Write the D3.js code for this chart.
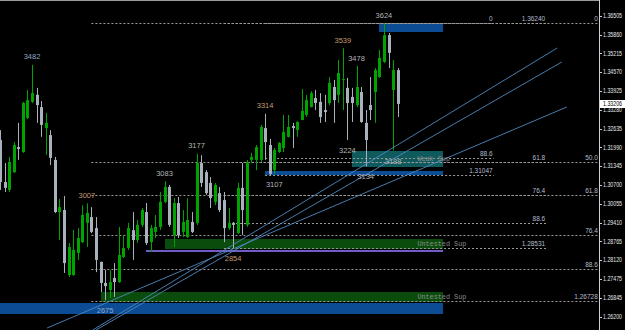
<!DOCTYPE html>
<html lang="en">
<head>
<meta charset="utf-8">
<title>EURUSD candles</title>
<script src="https://cdn.jsdelivr.net/npm/d3@7"></script>
<style>
    body { margin: 0; background: #000; }
    svg { display: block; }
    .axis-label { font: 6.5px "Liberation Sans", Arial, sans-serif; fill: #e8e8e8; }
    .swing { font: 7.5px "Liberation Sans", Arial, sans-serif; text-anchor: middle; }
    .fib-label { font: 6.5px "Liberation Sans", Arial, sans-serif; fill: #b4bccc; text-anchor: end; }
    .zone-label { font: 6.8px "Liberation Mono", monospace; fill: #8c8c8c; }
</style>
</head>
<body>
<svg id="chart" width="625" height="330"></svg>
<script>
// candles, oldest first (bar index = position)
const opens = [1.3224, 1.3080, 1.3053, 1.3114, 1.3200, 1.3183, 1.3300, 1.3355, 1.3379, 1.3337,
    1.3265, 1.3241, 1.3156, 1.2977, 1.2984, 1.2761, 1.2761, 1.2837, 1.2874, 1.2940,
    1.2960, 1.2922, 1.2806, 1.2734, 1.2710, 1.2751, 1.2737, 1.2823, 1.2854, 1.2915,
    1.2881, 1.2933, 1.2977, 1.2874, 1.2909, 1.2926, 1.3012, 1.3063, 1.2898, 1.3008,
    1.2909, 1.2891, 1.2943, 1.2940, 1.3145, 1.3114, 1.3077, 1.3012, 1.3042, 1.3018,
    1.2922, 1.2940, 1.2905, 1.3060, 1.2933, 1.3156, 1.3156, 1.3156, 1.3265, 1.3207,
    1.3121, 1.3183, 1.3197, 1.3235, 1.3272, 1.3259, 1.3293, 1.3310, 1.3337, 1.3368,
    1.3355, 1.3327, 1.3351, 1.3406, 1.3379, 1.3430, 1.3403, 1.3372, 1.3344, 1.3389,
    1.3283, 1.3344, 1.3389, 1.3440, 1.3492, 1.3584, 1.3396, 1.3464];
const highs = [1.3258, 1.3145, 1.3166, 1.3217, 1.3283, 1.3355, 1.3396, 1.3482, 1.3403, 1.3358,
    1.3317, 1.3258, 1.3166, 1.3022, 1.3032, 1.2871, 1.2916, 1.2922, 1.3000, 1.3007,
    1.2994, 1.2960, 1.2807, 1.2778, 1.2778, 1.2802, 1.2926, 1.2898, 1.2940, 1.2977,
    1.2950, 1.2991, 1.3008, 1.2933, 1.2967, 1.3046, 1.3083, 1.3070, 1.3025, 1.3029,
    1.2984, 1.3025, 1.2977, 1.3177, 1.3172, 1.3121, 1.3097, 1.3077, 1.3063, 1.3046,
    1.2991, 1.2943, 1.3077, 1.3145, 1.3156, 1.3180, 1.3207, 1.3276, 1.3314, 1.3228,
    1.3197, 1.3217, 1.3310, 1.3310, 1.3283, 1.3289, 1.3399, 1.3379, 1.3392, 1.3396,
    1.3385, 1.3379, 1.3440, 1.3430, 1.3499, 1.3539, 1.3437, 1.3403, 1.3478, 1.3406,
    1.3327, 1.3440, 1.3471, 1.3533, 1.3624, 1.3591, 1.3499, 1.3471];
const lows = [1.3053, 1.3046, 1.3046, 1.3111, 1.3156, 1.3180, 1.3296, 1.3351, 1.3283, 1.3235,
    1.3173, 1.3138, 1.2974, 1.2881, 1.2768, 1.2754, 1.2758, 1.2813, 1.2871, 1.2857,
    1.2905, 1.2771, 1.2703, 1.2675, 1.2682, 1.2686, 1.2734, 1.2819, 1.2847, 1.2813,
    1.2871, 1.2926, 1.2864, 1.2840, 1.2888, 1.2916, 1.3008, 1.2926, 1.2857, 1.2888,
    1.2891, 1.2888, 1.2905, 1.2933, 1.3063, 1.3036, 1.2991, 1.3001, 1.2977, 1.2874,
    1.2916, 1.2854, 1.2902, 1.2898, 1.2926, 1.3145, 1.3121, 1.3149, 1.3156, 1.3104,
    1.3107, 1.3180, 1.3183, 1.3233, 1.3197, 1.3235, 1.3292, 1.3303, 1.3336, 1.3327,
    1.3283, 1.3286, 1.3344, 1.3283, 1.3351, 1.3327, 1.3224, 1.3286, 1.3337, 1.3283,
    1.3134, 1.3293, 1.3283, 1.3437, 1.3488, 1.3471, 1.3188, 1.3303];
const closes = [1.3080, 1.3060, 1.3149, 1.3207, 1.3193, 1.3351, 1.3361, 1.3385, 1.3344, 1.3276,
    1.3283, 1.3163, 1.2977, 1.2994, 1.2802, 1.2857, 1.2847, 1.2888, 1.2967, 1.2974,
    1.2909, 1.2813, 1.2734, 1.2723, 1.2737, 1.2737, 1.2830, 1.2854, 1.2922, 1.2881,
    1.2933, 1.2984, 1.2871, 1.2922, 1.2926, 1.3012, 1.3063, 1.2933, 1.3008, 1.2898,
    1.2943, 1.2950, 1.2909, 1.3145, 1.3077, 1.3042, 1.3025, 1.3070, 1.2984, 1.2922,
    1.2940, 1.2933, 1.3060, 1.2984, 1.3149, 1.3166, 1.3200, 1.3269, 1.3217, 1.3108,
    1.3190, 1.3214, 1.3252, 1.3269, 1.3265, 1.3286, 1.3324, 1.3361, 1.3385, 1.3351,
    1.3303, 1.3320, 1.3420, 1.3361, 1.3454, 1.3433, 1.3351, 1.3351, 1.3406, 1.3286,
    1.3224, 1.3327, 1.3464, 1.3506, 1.3584, 1.3523, 1.3464, 1.3348];

const bidText = "1.33206";

// right price scale
const priceTicks = [1.36505, 1.35860, 1.35215, 1.34570, 1.33925, 1.33280, 1.32635, 1.31990,
    1.31345, 1.30700, 1.30055, 1.29410, 1.28765, 1.28120, 1.27475, 1.26830, 1.26185];
const priceTickLabels = ["1.36505", "1.35860", "1.35215", "1.34570", "1.33925", "1.33280", "1.32635", "1.31990",
    "1.31345", "1.30700", "1.30055", "1.29410", "1.28765", "1.28120", "1.27475", "1.26845", "1.26200"];

// swing high / low markers: bar, text, price, side, tier
const swingBars = [7, 84, 75, 78, 58, 43, 36, 19, 76, 60, 80, 86, 51, 23];
const swingTexts = ["3482", "3624", "3539", "3478", "3314", "3177", "3083", "3007", "3224", "3107", "3134", "3188", "2854", "2675"];
const swingPrices = [1.3482, 1.3624, 1.3539, 1.3478, 1.3314, 1.3177, 1.3083, 1.3007, 1.3224, 1.3107, 1.3134, 1.3188, 1.2854, 1.2675];
const swingSides = ["high", "high", "high", "high", "high", "high", "high", "high", "low", "low", "low", "low", "low", "low"];
const swingTiers = [1, 3, 2, 3, 2, 3, 3, 2, 3, 3, 3, 3, 2, 1];

// supply / demand boxes: start bar, end bar, top price, bottom price, kind, caption
const zoneStarts = [83, 77, 58, 36, 32, 22, 0];
const zoneEnds = [97, 97, 97, 97, 97, 97, 97];
const zoneTops = [1.3624, 1.3187, 1.3118, 1.2885, 1.2848, 1.2703, 1.2665];
const zoneBottoms = [1.3596, 1.3132, 1.3104, 1.2850, 1.2840, 1.2669, 1.2627];
const zoneKinds = ["blue", "teal", "blue", "green", "purple", "green", "blue"];
const zoneCaptions = ["", "Weak Sup", "", "Untested Sup", "", "Untested Sup", ""];

// fibonacci retracements: start bar, end bar, 0 price, 100 price, shown levels and texts
const fibStarts = [58, 49, 20];
const fibEnds = [108, 119.5, 131];
const fibZero = [1.3624, 1.3624, 1.3624];
const fibHundred = [1.31047, 1.28531, 1.26728];
const fibLevels = [[0, 88.6, 100], [0, 61.8, 76.4, 88.6, 100], [0, 50, 61.8, 76.4, 88.6, 100]];
const fibTexts = [["0", "88.6", "1.31047"], ["1.36240", "61.8", "76.4", "88.6", "1.28531"],
    ["0", "50.0", "61.8", "76.4", "88.6", "1.26728"]];

// trend lines: [bar, price] to [bar, price]
const trendStarts = [[20.3, 1.25725], [21.0, 1.25725], [10.3, 1.25794]];
const trendEnds = [[121.9, 1.35398], [122.9, 1.34917], [124.0, 1.33374]];

const width = 625, height = 330, plotRight = 599;
const x = d3.scaleLinear().domain([0, 131]).range([0, 598.8]);
const y = d3.scaleLinear().domain([1.37044, 1.25725]).range([0, height]);

const zoneColor = { blue: "#0c4c94", teal: "#0f5a5c", green: "#0a4c0c", purple: "#6e5cc4" };
const tierColor = { 1: "#8fa8c4", 2: "#c49a70", 3: "#b4b4b4" };
const bull = "#00a400", bear = "#a8b1bc";

const svg = d3.select("#chart");
svg.append("rect").attr("width", width).attr("height", height).attr("fill", "#000");

const plot = svg.append("g");

// zones behind everything
const zones = zoneStarts.map((s, i) => ({
    s, e: zoneEnds[i], top: zoneTops[i], bottom: zoneBottoms[i], kind: zoneKinds[i], caption: zoneCaptions[i]
}));
plot.selectAll("rect.zone").data(zones).join("rect")
    .attr("class", "zone")
    .attr("x", d => Math.round(x(d.s)))
    .attr("y", d => Math.round(y(d.top)))
    .attr("width", d => Math.round(x(d.e)) - Math.round(x(d.s)))
    .attr("height", d => Math.max(2, Math.round(y(d.bottom)) - Math.round(y(d.top))))
    .attr("fill", d => zoneColor[d.kind]);

// fib levels
const fibRows = [];
fibStarts.forEach((s, k) => {
    fibLevels[k].forEach((lv, j) => {
        const p = fibZero[k] - lv / 100 * (fibZero[k] - fibHundred[k]);
        fibRows.push({ s, e: fibEnds[k], p, text: fibTexts[k][j] });
    });
});
plot.selectAll("line.fib").data(fibRows).join("line")
    .attr("x1", d => x(d.s)).attr("x2", d => x(d.e))
    .attr("y1", d => Math.round(y(d.p)) + 0.5).attr("y2", d => Math.round(y(d.p)) + 0.5)
    .attr("stroke", "#9a9a9a").attr("stroke-width", 1).attr("stroke-dasharray", "2,2");
plot.selectAll("text.fib-label").data(fibRows).join("text")
    .attr("class", "fib-label")
    .attr("x", d => x(d.e) - 1).attr("y", d => Math.round(y(d.p)) - 2)
    .text(d => d.text);

// candles
const bars = opens.map((o, i) => ({ i, o, h: highs[i], l: lows[i], c: closes[i] }));
const cx = i => Math.round(x(i));
plot.selectAll("line.wick").data(bars).join("line")
    .attr("x1", d => cx(d.i) + 0.5).attr("x2", d => cx(d.i) + 0.5)
    .attr("y1", d => y(d.h)).attr("y2", d => y(d.l))
    .attr("stroke", d => d.c >= d.o ? bull : bear);
plot.selectAll("rect.body").data(bars).join("rect")
    .attr("x", d => cx(d.i) - 1).attr("width", 3)
    .attr("y", d => y(Math.max(d.o, d.c)))
    .attr("height", d => Math.max(1, y(Math.min(d.o, d.c)) - y(Math.max(d.o, d.c))))
    .attr("fill", d => d.c >= d.o ? bull : bear);

// trend lines
const trends = trendStarts.map((a, i) => [a, trendEnds[i]]);
plot.selectAll("line.trend").data(trends).join("line")
    .attr("x1", d => x(d[0][0])).attr("y1", d => y(d[0][1]))
    .attr("x2", d => x(d[1][0])).attr("y2", d => y(d[1][1]))
    .attr("stroke", "#5089bd").attr("stroke-width", 0.9);

// zone captions
plot.selectAll("text.zone-label").data(zones.filter(d => d.caption)).join("text")
    .attr("class", "zone-label")
    .attr("x", d => x(d.e) - 26)
    .attr("y", d => (y(d.top) + y(d.bottom)) / 2 + 2.5)
    .text(d => d.caption);

// swing labels
const swings = swingBars.map((b, i) => ({ b, t: swingTexts[i], p: swingPrices[i], side: swingSides[i], tier: swingTiers[i] }));
plot.selectAll("text.swing").data(swings).join("text")
    .attr("class", "swing")
    .attr("x", d => x(d.b))
    .attr("y", d => d.side === "high" ? y(d.p) - 5.5 : y(d.p) + 13)
    .attr("fill", d => tierColor[d.tier])
    .text(d => d.t);

// frame and price axis
svg.append("line").attr("x1", 0).attr("x2", plotRight + 1).attr("y1", 0.5).attr("y2", 0.5).attr("stroke", "#9a9a9a");
svg.append("line").attr("x1", plotRight + 0.5).attr("x2", plotRight + 0.5).attr("y1", 0).attr("y2", height).attr("stroke", "#d0d0d0");

const axis = svg.append("g");
axis.selectAll("line.tick").data(priceTicks).join("line")
    .attr("x1", plotRight).attr("x2", plotRight + 3)
    .attr("y1", d => Math.round(y(d)) + 0.5).attr("y2", d => Math.round(y(d)) + 0.5)
    .attr("stroke", "#d0d0d0");
axis.selectAll("text").data(priceTicks).join("text")
    .attr("class", "axis-label")
    .attr("x", plotRight + 4).attr("y", d => y(d) + 2.3)
    .attr("textLength", 19).attr("lengthAdjust", "spacingAndGlyphs")
    .text((d, i) => priceTickLabels[i]);

// last price box
const last = closes[closes.length - 1];
axis.append("rect").attr("x", plotRight + 1).attr("y", Math.round(y(last)) - 4)
    .attr("width", 25).attr("height", 8).attr("fill", "#fff");
axis.append("text").attr("class", "axis-label").style("fill", "#000")
    .attr("x", plotRight + 4).attr("y", y(last) + 2.5)
    .attr("textLength", 19).attr("lengthAdjust", "spacingAndGlyphs")
    .text(bidText);
</script>
</body>
</html>
